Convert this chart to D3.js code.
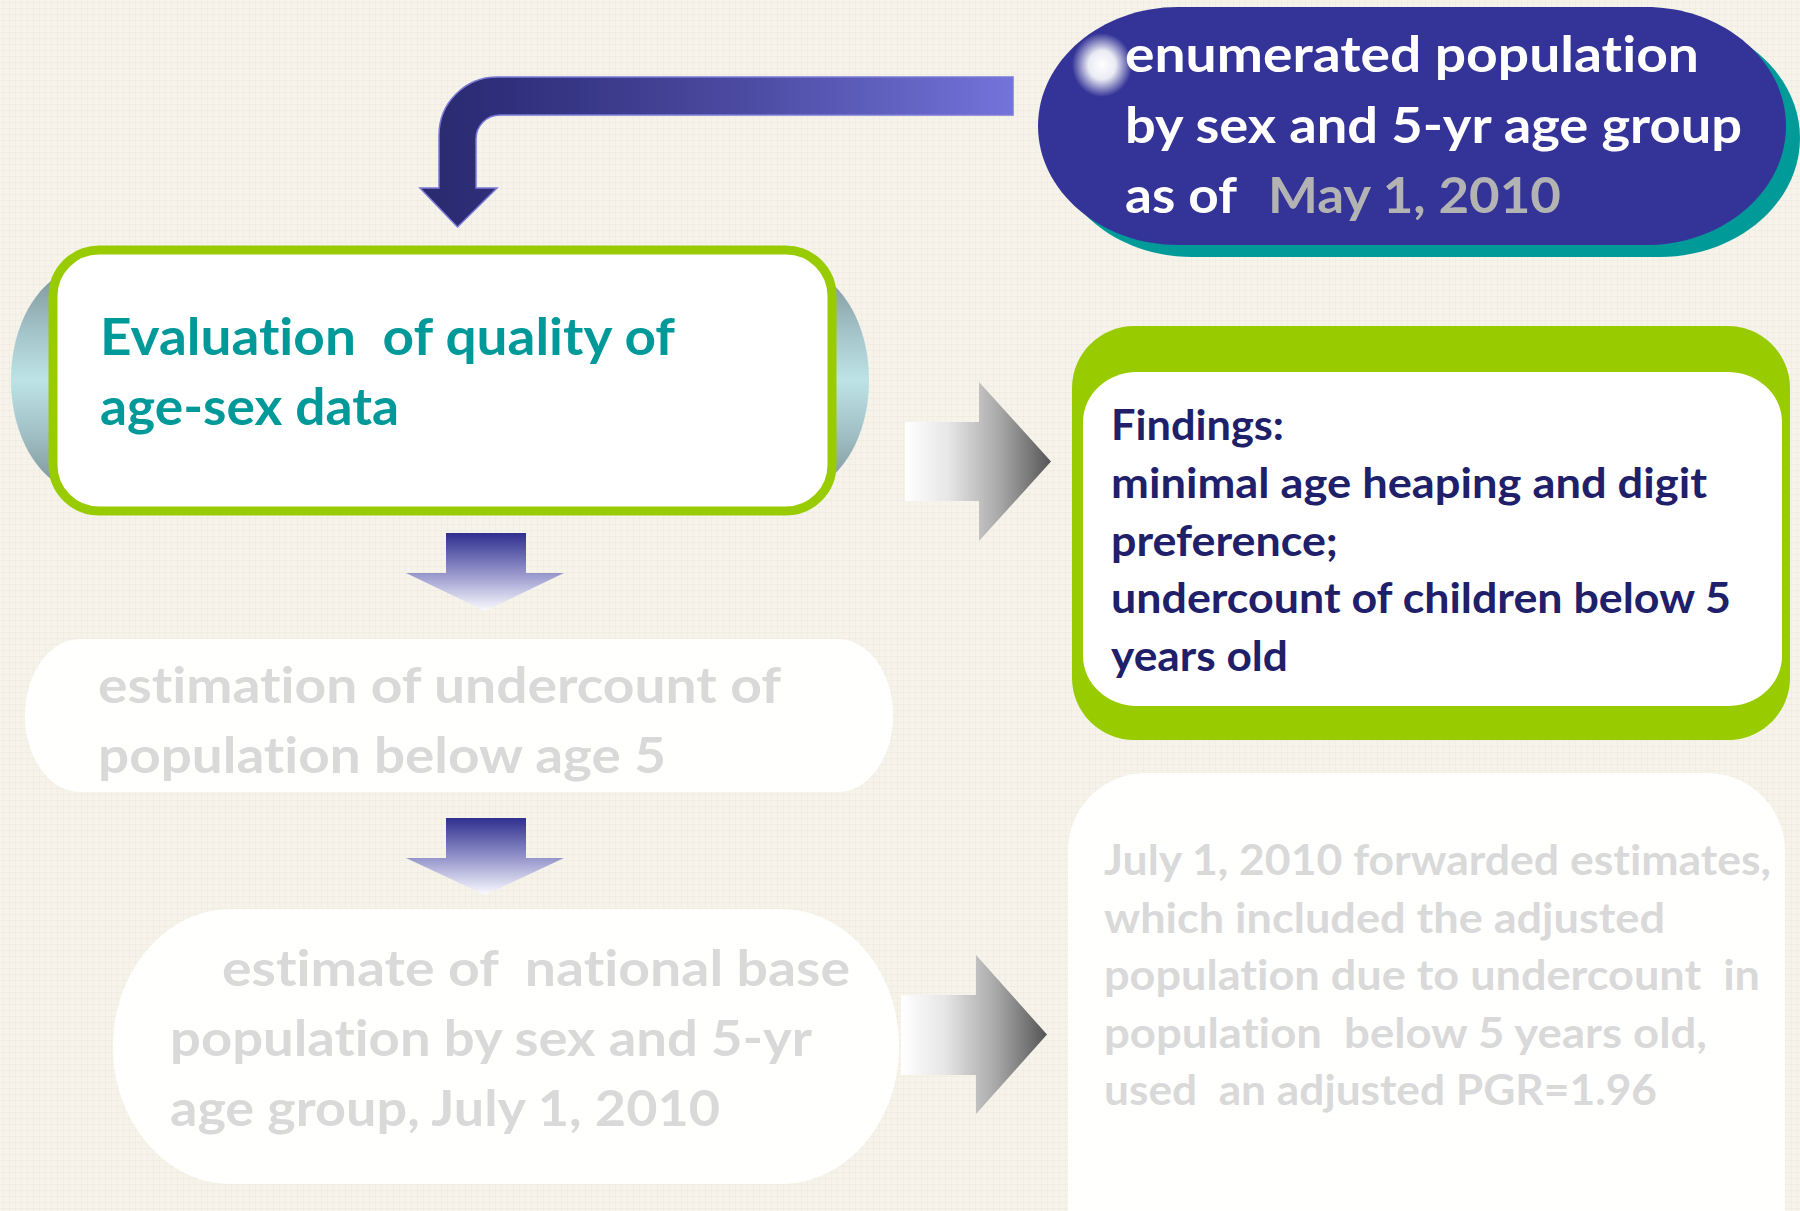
<!DOCTYPE html>
<html>
<head>
<meta charset="utf-8">
<script src="https://cdn.jsdelivr.net/npm/d3@7"></script>
<style>
  html, body { margin: 0; padding: 0; background: #f5f2ea; }
  svg { display: block; }
  text { white-space: pre; font-family: Lato, "Open Sans", sans-serif; font-weight: 700;
         font-variant-ligatures: none; font-feature-settings: "liga" 0, "clig" 0; }
</style>
</head>
<body>
<svg id="chart" width="1800" height="1211"></svg>
<script>
// ---- text content of each box (one entry per line) ----
const pillLines = ['enumerated population', 'by sex and 5-yr age group', 'as of'];
const pillDate = 'May 1, 2010';
const evalLines = ['Evaluation  of quality of', 'age-sex data'];
const findingsLines = ['Findings:', 'minimal age heaping and digit', 'preference;',
  'undercount of children below 5', 'years old'];
const undercountLines = ['estimation of undercount of', 'population below age 5'];
const baseLines = ['estimate of  national base', 'population by sex and 5-yr', 'age group, July 1, 2010'];
const forwardLines = ['July 1, 2010 forwarded estimates,', 'which included the adjusted',
  'population due to undercount  in', 'population  below 5 years old,', 'used  an adjusted PGR=1.96'];

// ---- layout (pixel positions / widths), kept apart from the text ----
const W = 1800, H = 1211;
const svg = d3.select('#chart');
const defs = svg.append('defs');

// background linen texture
const pat = defs.append('pattern').attr('id', 'linen').attr('width', 6).attr('height', 6)
  .attr('patternUnits', 'userSpaceOnUse');
pat.append('rect').attr('width', 6).attr('height', 6).attr('fill', '#f6f3eb');
pat.append('rect').attr('x', 0).attr('y', 2).attr('width', 6).attr('height', 1).attr('fill', '#ece7da').attr('opacity', 0.5);
pat.append('rect').attr('x', 3).attr('y', 0).attr('width', 1).attr('height', 6).attr('fill', '#ece7da').attr('opacity', 0.4);
svg.append('rect').attr('width', W).attr('height', H).attr('fill', 'url(#linen)');

function linGrad(id, x1, y1, x2, y2, stops) {
  const g = defs.append('linearGradient').attr('id', id)
    .attr('gradientUnits', 'userSpaceOnUse')
    .attr('x1', x1).attr('y1', y1).attr('x2', x2).attr('y2', y2);
  stops.forEach(([o, c]) => g.append('stop').attr('offset', o).attr('stop-color', c));
}

// rounded rect with separate x/y radii, as a path
function pill(x0, y0, x1, y1, rx, ry) {
  const p = d3.path();
  p.moveTo(x0 + rx, y0);
  p.lineTo(x1 - rx, y0);
  p.bezierCurveTo(x1 - rx * 0.45, y0, x1, y0 + ry * 0.45, x1, y0 + ry);
  p.lineTo(x1, y1 - ry);
  p.bezierCurveTo(x1, y1 - ry * 0.45, x1 - rx * 0.45, y1, x1 - rx, y1);
  p.lineTo(x0 + rx, y1);
  p.bezierCurveTo(x0 + rx * 0.45, y1, x0, y1 - ry * 0.45, x0, y1 - ry);
  p.lineTo(x0, y0 + ry);
  p.bezierCurveTo(x0, y0 + ry * 0.45, x0 + rx * 0.45, y0, x0 + rx, y0);
  p.closePath();
  return p.toString();
}

// draws a block of lines; baselines come from a linear scale over the line index
function textBlock(lines, x, y0, step, size, fill, widths, xs) {
  const yS = d3.scaleLinear().domain([0, 1]).range([y0, y0 + step]);
  svg.append('g').selectAll('text').data(lines).join('text')
    .attr('x', (d, i) => xs ? xs[i] : x)
    .attr('y', (d, i) => yS(i))
    .attr('font-size', size)
    .attr('fill', fill)
    .attr('textLength', (d, i) => widths[i])
    .attr('lengthAdjust', 'spacingAndGlyphs')
    .text(d => d);
}

// ---------- bent arrow (top) ----------
linGrad('bentG', 420, 0, 1013, 0, [[0, '#2a2a6e'], [0.15, '#2f2f7c'], [0.55, '#4c4ba2'], [1, '#7373da']]);
{
  const p = d3.path();
  p.moveTo(1013, 77); p.lineTo(497, 77);
  p.arc(497, 135, 58, -Math.PI / 2, Math.PI, true);
  p.lineTo(439, 188); p.lineTo(420, 188); p.lineTo(457.5, 227); p.lineTo(497, 188);
  p.lineTo(476, 188); p.lineTo(476, 139);
  p.arc(500, 139, 24, Math.PI, -Math.PI / 2, false);
  p.lineTo(1013, 115); p.closePath();
  svg.append('path').attr('d', p.toString()).attr('fill', 'url(#bentG)')
    .attr('stroke', '#7b79d8').attr('stroke-width', 1.5);
}

// ---------- top-right blue pill ----------
svg.append('path').attr('d', pill(1052, 19, 1800, 257, 140, 119)).attr('fill', '#009a99');
svg.append('path').attr('d', pill(1038, 7, 1786, 245, 140, 119)).attr('fill', '#343498');
const glow = defs.append('radialGradient').attr('id', 'glow');
glow.append('stop').attr('offset', 0).attr('stop-color', '#ffffff').attr('stop-opacity', 1);
glow.append('stop').attr('offset', 0.45).attr('stop-color', '#ffffff').attr('stop-opacity', 0.9);
glow.append('stop').attr('offset', 1).attr('stop-color', '#ffffff').attr('stop-opacity', 0);
svg.append('ellipse').attr('cx', 1102).attr('cy', 65).attr('rx', 30).attr('ry', 32).attr('fill', 'url(#glow)');
textBlock(pillLines, 1125, 72, 70.5, 49, '#ffffff', [574, 617, 112]);
svg.append('text').attr('x', 1268).attr('y', 213).attr('font-size', 49).attr('fill', '#b3b3b3')
  .attr('textLength', 293).attr('lengthAdjust', 'spacingAndGlyphs').text(pillDate);

// ---------- evaluation box ----------
linGrad('cylG', 0, 268, 0, 492, [[0, '#7c9298'], [0.28, '#a3c3c8'], [0.5, '#bde3e6'], [0.72, '#a3c3c8'], [1, '#7c9298']]);
svg.append('path').attr('d', pill(11, 268, 869, 492, 75, 112)).attr('fill', 'url(#cylG)');
svg.append('rect').attr('x', 53).attr('y', 250).attr('width', 779).attr('height', 261)
  .attr('rx', 46).attr('ry', 46).attr('fill', '#ffffff')
  .attr('stroke', '#99cc00').attr('stroke-width', 9);
textBlock(evalLines, 100, 355, 70, 51, '#009999', [575, 299]);

// ---------- down arrows ----------
linGrad('downG1', 0, 533, 0, 611, [[0, '#2f2f90'], [0.5, '#9191c9'], [1, '#fbfbff']]);
linGrad('downG2', 0, 818, 0, 895, [[0, '#2f2f90'], [0.5, '#9191c9'], [1, '#fbfbff']]);
function downArrow(top, neck, tip, id) {
  const pts = [[446, top], [526, top], [526, neck], [564, neck], [485, tip], [406, neck], [446, neck]];
  svg.append('path').attr('d', d3.line()(pts) + 'Z').attr('fill', `url(#${id})`);
}
downArrow(533, 573, 611, 'downG1');
downArrow(818, 858, 895, 'downG2');

// ---------- findings box ----------
svg.append('path').attr('d', pill(1072, 326, 1790, 740, 62, 62)).attr('fill', '#99cc00');
svg.append('path').attr('d', pill(1083, 372, 1782, 706, 54, 50)).attr('fill', '#ffffff');
textBlock(findingsLines, 1111, 440, 57.8, 42, '#20206a', [173, 596, 227, 620, 177]);

// ---------- faded boxes ----------
svg.append('path').attr('d', pill(25, 639, 893, 792, 55, 76)).attr('fill', '#ffffff').attr('opacity', 0.95);
textBlock(undercountLines, 98, 703, 70, 49, '#d9d9d9', [683, 568]);

svg.append('path').attr('d', pill(113, 909, 899, 1184, 118, 137)).attr('fill', '#ffffff').attr('opacity', 0.95);
textBlock(baseLines, 170, 986, 70, 49, '#d9d9d9', [628, 642, 550], [222, 170, 170]);

svg.append('path').attr('d', pill(1068, 773, 1785, 1290, 78, 78)).attr('fill', '#ffffff').attr('opacity', 0.95);
textBlock(forwardLines, 1104, 875, 57.5, 42, '#d9d9d9', [667, 561, 656, 603, 553]);

// ---------- right-pointing gray arrows ----------
function rightArrow(x0, neck, tip, y0, y1, h0, h1, id) {
  const mid = (h0 + h1) / 2;
  linGrad(id, x0, 0, tip, 0, [[0, '#ffffff'], [0.3, '#e6e6e6'], [0.65, '#a8a8a8'], [1, '#555555']]);
  const pts = [[x0, y0], [neck, y0], [neck, h0], [tip, mid], [neck, h1], [neck, y1], [x0, y1]];
  svg.append('path').attr('d', d3.line()(pts) + 'Z').attr('fill', `url(#${id})`);
}
rightArrow(905, 979, 1051, 422, 501, 382, 541, 'grayG1');
rightArrow(901, 976, 1047, 995, 1075, 955, 1114, 'grayG2');
</script>
</body>
</html>
